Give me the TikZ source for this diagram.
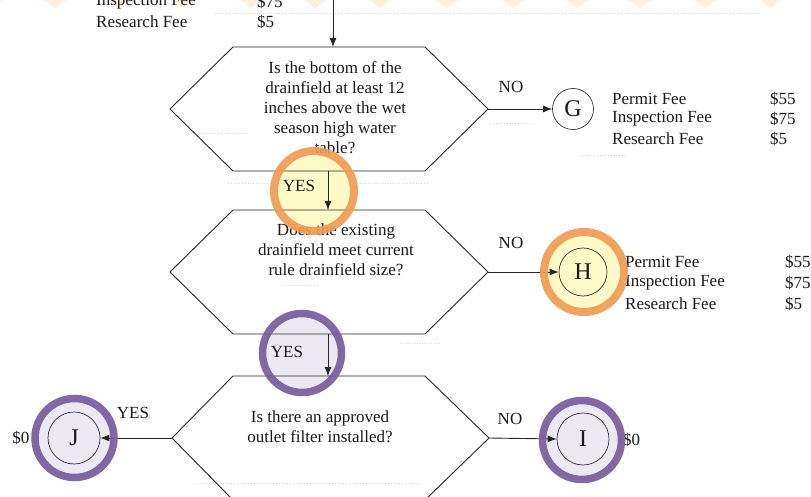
\documentclass[tikz,border=0pt]{standalone}
\usepackage{fontspec}
\setmainfont{Liberation Serif}
\usetikzlibrary{arrows.meta}
\definecolor{ringorange}{RGB}{240,155,85}
\definecolor{fillyellow}{RGB}{255,250,200}
\definecolor{ringpurple}{RGB}{118,92,158}
\definecolor{filllav}{RGB}{236,233,244}
\definecolor{bandorange}{RGB}{250,195,120}
\definecolor{guidegray}{RGB}{210,220,225}

\begin{document}
\begin{tikzpicture}[x=1pt,y=-1pt,
  every node/.style={font=\fontsize{17}{20}\selectfont, inner sep=0pt, text=black!90},
  hexline/.style={draw=black!85, line width=0.9pt, line join=miter},
  flow/.style={draw=black!85, line width=0.9pt, -{Latex[length=9pt,width=7pt]}},
  qtext/.style={align=center},
  endcircle/.style={circle, draw=black!80, line width=0.7pt},
  bigletter/.style={font=\fontsize{24}{24}\selectfont},
  fee/.style={anchor=west},
  guide/.style={draw=guidegray, dotted, line width=0.8pt},
  hifillo/.style={fill=fillyellow},
  hifillp/.style={fill=filllav},
  hiorange/.style={draw=ringorange, line width=8pt, draw opacity=0.92},
  hipurple/.style={draw=ringpurple, line width=7.5pt, draw opacity=0.92},
]
\useasboundingbox (0,0) rectangle (811,497);

% decorative band along the top edge
\foreach \bx in {-9,55,119,183,250,315,380,447,513,577,640,705,770}
  \fill[bandorange, opacity=0.25] (\bx-13,0) .. controls (\bx-6,0) and (\bx-3,8) .. (\bx,8) .. controls (\bx+3,8) and (\bx+6,0) .. (\bx+13,0) -- cycle;

% faint dotted guide lines
\draw[guide] (215,13) -- (760,13);
\draw[guide] (193,133) -- (247,133);
\draw[guide] (228,183) -- (428,183);
\draw[guide] (490,123) -- (533,123);
\draw[guide] (580,155) -- (627,155);
\draw[guide] (283,285) -- (317,285);
\draw[guide] (400,343) -- (440,343);
\draw[guide] (195,483) -- (420,483);

% highlight interiors
\fill[hifillo] (314,191) circle (40);
\fill[hifillo] (584,272) circle (40);
\fill[hifillp] (302,353) circle (39.5);
\fill[hifillp] (74.5,438) circle (39.5);
\fill[hifillp] (582,440) circle (39.5);

% fees carried over from the previous step
\node[fee] (topfee1) at (96,2) {Inspection Fee};
\node[fee] (topamt1) at (257,2) {\$75};
\node[fee] (topfee2) at (96,22) {Research Fee};
\node[fee] (topamt2) at (257,22) {\$5};
\coordinate (entry) at (333,-5);

% decision 1
\draw[hexline] (233,47) -- (425,47) -- (488,109) -- (425,171) -- (233,171) -- (170,109) -- cycle;
\coordinate (q1top) at (333,47);
\coordinate (q1right) at (488,109);
\coordinate (q1yes) at (328,171);
\node[qtext] (q1) at (335,108) {Is the bottom of the\\drainfield at least 12\\inches above the wet\\season high water\\table?};

% decision 2
\draw[hexline] (233,210) -- (425,210) -- (488,272) -- (425,334) -- (233,334) -- (170,272) -- cycle;
\coordinate (q2top) at (328,210);
\coordinate (q2right) at (488,272);
\coordinate (q2yes) at (328,334);
\node[qtext] (q2) at (336,250) {Does the existing\\drainfield meet current\\rule drainfield size?};

% decision 3
\draw[hexline] (233,376) -- (425,376) -- (489,438) -- (425,500) -- (233,500) -- (172,438) -- cycle;
\coordinate (q3top) at (328,376);
\coordinate (q3right) at (489,438);
\coordinate (q3left) at (172,438);
\node[qtext] (q3) at (320,426.5) {Is there an approved\\outlet filter installed?};

% outcomes
\node[endcircle, minimum size=41pt, bigletter] (G) at (573,109) {G};
\node[endcircle, minimum size=48pt, bigletter] (H) at (583,272) {H};
\node[endcircle, minimum size=52pt, bigletter] (I) at (583,439) {I};
\node[endcircle, minimum size=52pt, bigletter] (J) at (74,438) {J};

\node[fee] (gfee1) at (612,99) {Permit Fee};
\node[fee] (gfee2) at (612,119) {Inspection Fee};
\node[fee] (gfee3) at (612,139) {Research Fee};
\node[fee] (gamt1) at (770,99) {\$55};
\node[fee] (gamt2) at (770,119) {\$75};
\node[fee] (gamt3) at (770,139) {\$5};

\node[fee] (hfee1) at (625,262) {Permit Fee};
\node[fee] (hfee2) at (625,283) {Inspection Fee};
\node[fee] (hfee3) at (625,304) {Research Fee};
\node[fee] (hamt1) at (785,262) {\$55};
\node[fee] (hamt2) at (785,283) {\$75};
\node[fee] (hamt3) at (785,304) {\$5};

\node (jamt) at (21,438) {\$0};
\node[fee] (iamt) at (623,440) {\$0};

% connectors
\draw[flow] (entry) -- (q1top);
\draw[flow] (q1right) -- (G.west);
\draw[flow] (q1yes) -- (q2top);
\draw[flow] (q2right) -- (H.west);
\draw[flow] (q2yes) -- (q3top);
\draw[flow] (q3left) -- (J.east);
\draw[flow] (q3right) -- (I.west);

% branch labels
\node (no1) at (511,87) {NO};
\node (yes1) at (299,186) {YES};
\node (no2) at (511,243) {NO};
\node (yes2) at (287,352) {YES};
\node (yes3) at (133,413) {YES};
\node (no3) at (510,419) {NO};

% highlight rings
\draw[hiorange] (314,191) circle (40);
\draw[hiorange] (584,272) circle (40);
\draw[hipurple] (302,353) circle (39.5);
\draw[hipurple] (74.5,438) circle (39.5);
\draw[hipurple] (582,440) circle (39.5);
\end{tikzpicture}
\end{document}
